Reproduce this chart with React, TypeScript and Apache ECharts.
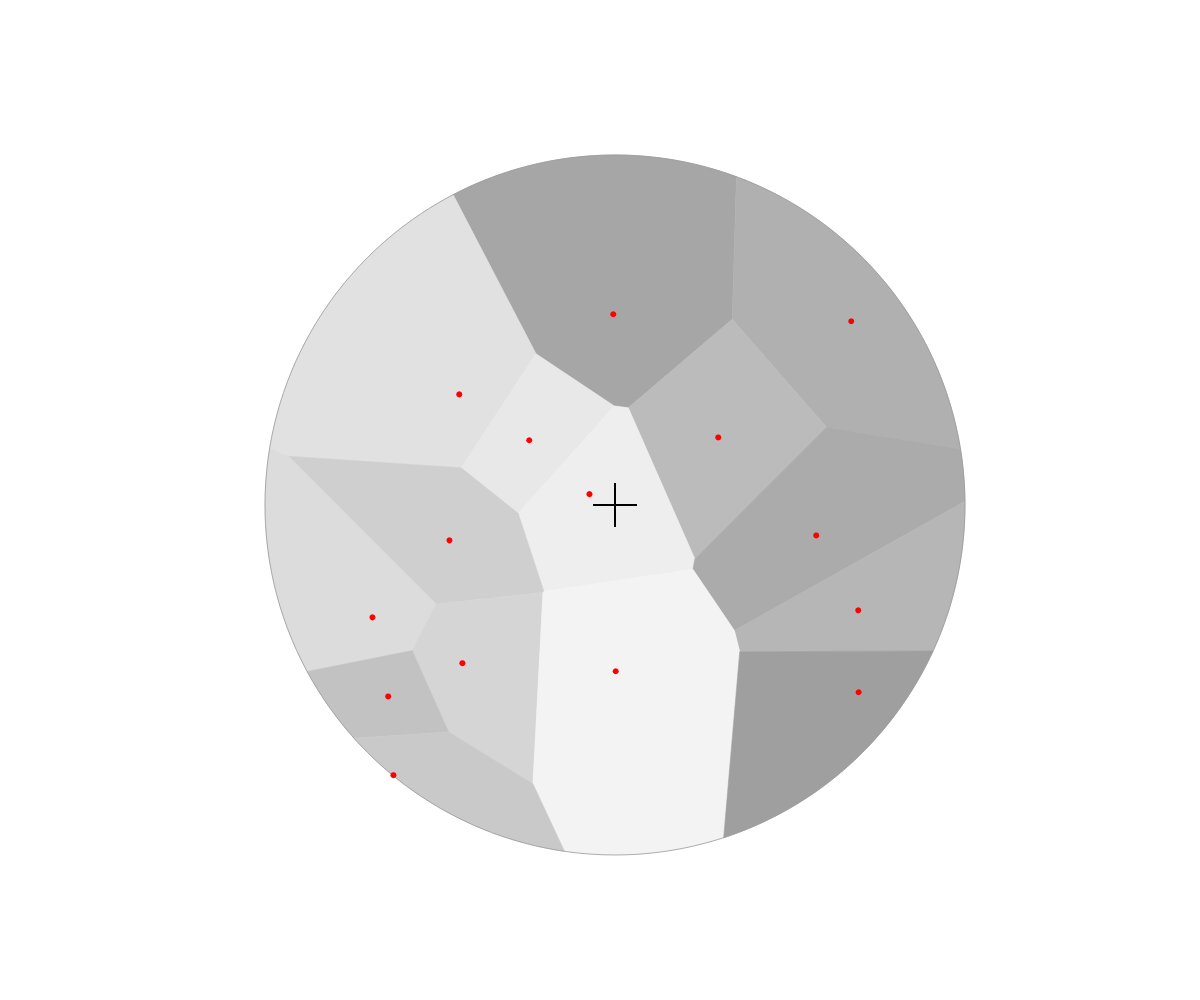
import React, { useEffect, useRef } from "react";
import * as echarts from "echarts";

// Site coordinates (data units; disc centred at 0,0 with radius 100)
const siteX = [-0.5, 67.5, -44.5, -24.5, 29.5, -7.3, 57.5, -47.3, 69.5, -69.3, -43.6, 0.2, -64.8, 69.6, -63.3];
const siteY = [54.5, 52.5, 31.6, 18.5, 19.3, 3.1, -8.7, -10.1, -30.1, -32.1, -45.2, -47.5, -54.7, -53.5, -77.2];
const cellColors = [
  "#a6a6a6", "#b0b0b0", "#e1e1e1", "#e8e8e8", "#bbbbbb",
  "#eeeeee", "#ababab", "#cfcfcf", "#b6b6b6", "#dcdcdc",
  "#d5d5d5", "#f3f3f3", "#c2c2c2", "#9f9f9f", "#c9c9c9",
];
const discCenter = [0, 0];
const discRadius = 100;

type Pt = [number, number];

function discPolygon(): Pt[] {
  const n = 720;
  const pts: Pt[] = [];
  for (let k = 0; k < n; k++) {
    const a = (k / n) * Math.PI * 2;
    pts.push([discCenter[0] + discRadius * Math.cos(a), discCenter[1] + discRadius * Math.sin(a)]);
  }
  return pts;
}

// keep the half-plane closer to (ax,ay) than to (bx,by)
function clipHalf(poly: Pt[], ax: number, ay: number, bx: number, by: number): Pt[] {
  const mx = (ax + bx) / 2, my = (ay + by) / 2;
  const dx = bx - ax, dy = by - ay;
  const f = (p: Pt) => (p[0] - mx) * dx + (p[1] - my) * dy;
  const out: Pt[] = [];
  for (let k = 0; k < poly.length; k++) {
    const p = poly[k];
    const q = poly[(k + 1) % poly.length];
    const fp = f(p), fq = f(q);
    if (fp <= 0) out.push(p);
    if ((fp <= 0) !== (fq <= 0)) {
      const t = fp / (fp - fq);
      out.push([p[0] + t * (q[0] - p[0]), p[1] + t * (q[1] - p[1])]);
    }
  }
  return out;
}

function cellPolygon(i: number): Pt[] {
  let poly = discPolygon();
  for (let j = 0; j < siteX.length; j++) {
    if (j === i) continue;
    poly = clipHalf(poly, siteX[i], siteY[i], siteX[j], siteY[j]);
    if (poly.length === 0) break;
  }
  return poly;
}

export default function App() {
  const ref = useRef<HTMLDivElement>(null);
  useEffect(() => {
    if (!ref.current) return;
    const chart = echarts.init(ref.current, undefined, { renderer: "svg" });
    const sites = siteX.map((x, i) => [i, x, siteY[i]]);
    chart.setOption({
      animation: false,
      backgroundColor: "#ffffff",
      grid: { left: 257, top: 147, width: 700, height: 700 },
      xAxis: { type: "value", min: -100, max: 100, show: false },
      yAxis: { type: "value", min: -100, max: 100, show: false },
      series: [
        {
          type: "custom",
          data: sites,
          encode: { x: 1, y: 2 },
          silent: true,
          renderItem: (params: any, api: any) => {
            const i = api.value(0);
            const pts = cellPolygon(i).map((p) => api.coord(p));
            return {
              type: "polygon",
              shape: { points: pts },
              style: { fill: cellColors[i], stroke: cellColors[i], lineWidth: 0.6 },
            };
          },
          z: 1,
        },
        {
          type: "custom",
          data: [[discCenter[0], discCenter[1]]],
          silent: true,
          renderItem: (params: any, api: any) => {
            const c = api.coord([api.value(0), api.value(1)]);
            const r = api.size([discRadius, 0])[0];
            return {
              type: "circle",
              shape: { cx: c[0], cy: c[1], r },
              style: { fill: "none", stroke: "#9a9a9a", lineWidth: 0.8 },
            };
          },
          z: 2,
        },
        {
          type: "scatter",
          data: siteX.map((x, i) => [x, siteY[i]]),
          symbolSize: 6,
          itemStyle: { color: "#ff0000", opacity: 1 },
          silent: true,
          z: 3,
        },
        {
          type: "custom",
          data: [[discCenter[0], discCenter[1]]],
          silent: true,
          renderItem: (params: any, api: any) => {
            const c = api.coord([api.value(0), api.value(1)]);
            const h = 22;
            return {
              type: "group",
              children: [
                { type: "line", shape: { x1: c[0] - h, y1: c[1], x2: c[0] + h, y2: c[1] }, style: { stroke: "#000", lineWidth: 2 } },
                { type: "line", shape: { x1: c[0], y1: c[1] - h, x2: c[0], y2: c[1] + h }, style: { stroke: "#000", lineWidth: 2 } },
              ],
            };
          },
          z: 4,
        },
      ],
    });
    return () => chart.dispose();
  }, []);
  return <div ref={ref} style={{ width: 1200, height: 1000 }} />;
}
